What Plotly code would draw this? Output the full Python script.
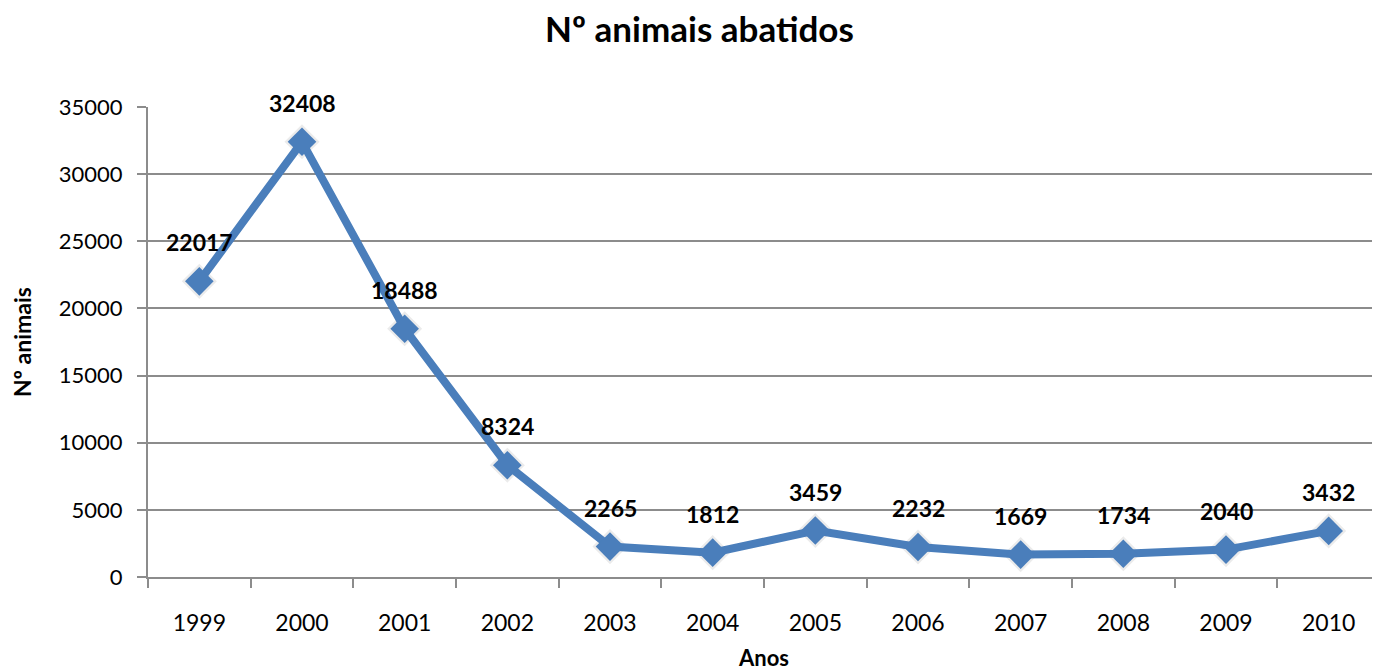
import plotly.graph_objects as go

years = ["1999", "2000", "2001", "2002", "2003", "2004", "2005", "2006", "2007", "2008", "2009", "2010"]
animals = [22017, 32408, 18488, 8324, 2265, 1812, 3459, 2232, 1669, 1734, 2040, 3432]

FONT = "Lato"
BLUE = "#4a7ebb"
GRID = "#8c8c8c"

fig = go.Figure()
# soft shadow under markers
fig.add_trace(go.Scatter(
    x=years, y=animals, mode="markers",
    marker=dict(symbol="diamond", size=27, color="rgba(0,0,0,0.08)", line=dict(width=0)),
    hoverinfo="skip", showlegend=False,
))
fig.add_trace(go.Scatter(
    x=years, y=animals, mode="lines+markers",
    line=dict(color=BLUE, width=8),
    marker=dict(symbol="diamond", size=22, color=BLUE, line=dict(width=0)),
    showlegend=False,
))

for i, v in enumerate(animals):
    fig.add_annotation(x=i, y=v, xref="x", yref="y", text=f"<b>{v}</b>", showarrow=False, yshift=39,
                       font=dict(family=FONT, size=23, color="black"))

fig.update_layout(
    width=1372, height=663,
    margin=dict(l=140, r=0, t=99, b=94),
    paper_bgcolor="white", plot_bgcolor="white",
    title=dict(text="<b>Nº animais abatidos</b>", x=0.504, xanchor="center", xref="container",
               y=1 - 22 / 663, yanchor="middle",
               font=dict(family=FONT, size=35, color="black")),
    font=dict(family=FONT, size=22, color="black"),
    xaxis=dict(
        type="category", range=[-0.5, 11.5],
        showline=True, linecolor=GRID, linewidth=2,
        ticks="outside", ticklen=9, tickcolor=GRID, tickwidth=2, tickson="boundaries",
        ticklabelstandoff=24,
        showgrid=False,
        tickfont=dict(family=FONT, size=23, color="black"),
        title=dict(text="<b>Anos</b>", font=dict(family=FONT, size=22, color="black"), standoff=18),
    ),
    yaxis=dict(
        range=[0, 35000], dtick=5000, tickformat="d",
        showline=True, linecolor=GRID, linewidth=2,
        ticks="outside", ticklen=9, tickcolor=GRID, tickwidth=2,
        ticklabelstandoff=10,
        showgrid=True, gridcolor=GRID, gridwidth=1.5,
        zeroline=False,
        tickfont=dict(family=FONT, size=22, color="black"),
        title=dict(text="<b>Nº animais</b>", font=dict(family=FONT, size=23, color="black"), standoff=26),
    ),
)

fig.write_html("out.html")
